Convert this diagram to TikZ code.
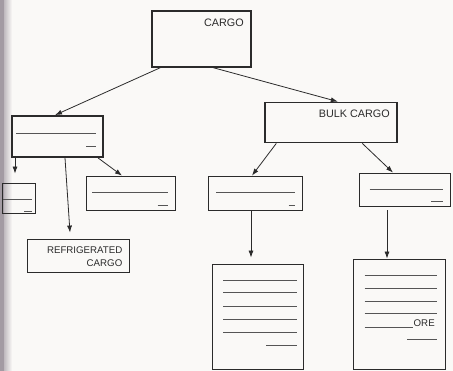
\documentclass[tikz,border=0pt]{standalone}
\usepackage{fontspec}
\setmainfont{Liberation Sans}
\usetikzlibrary{arrows.meta,calc}
\definecolor{ink}{HTML}{2B2B2B}
\definecolor{faint}{HTML}{555555}
\definecolor{paper}{HTML}{FAF9F7}
\definecolor{spine}{HTML}{A39BA3}
\begin{document}
\begin{tikzpicture}[x=1pt,y=-1pt,
  thickbox/.style={draw=ink,line width=1.8pt,inner sep=0pt,rectangle},
  thinbox/.style={draw=ink,line width=0.8pt,inner sep=0pt,rectangle},
  rule/.style={draw=faint,line width=0.6pt},
  conn/.style={draw=ink,line width=0.8pt,-{Latex[length=7pt,width=5pt]}},
  lbl/.style={inner sep=0pt,font=\fontsize{10.8pt}{13pt}\selectfont,text=ink},
  smalllbl/.style={lbl,font=\fontsize{9.7pt}{12pt}\selectfont}]
\useasboundingbox (0,0) rectangle (453,371);
\fill[paper] (0,0) rectangle (453,371);
\shade[left color=spine,right color=paper] (0,0) rectangle (12,371);
\fill[spine] (0,0) rectangle (4,371);
% boxes
\node[thickbox,minimum width=99pt,minimum height=56pt] (cargo) at (201.3,38.8) {};
\node[thickbox,minimum width=91pt,minimum height=41pt] (left) at (57.5,136.5) {};
\node[thickbox,minimum width=132pt,minimum height=40pt] (bulk) at (331.3,122.5) {};
\node[thinbox,minimum width=33pt,minimum height=30pt] (tiny) at (18.5,198) {};
\node[thinbox,minimum width=89pt,minimum height=34pt] (b2) at (130.5,193) {};
\node[thinbox,minimum width=102pt,minimum height=33pt] (refr) at (78.5,255.5) {};
\node[thinbox,minimum width=94pt,minimum height=34pt] (mid) at (255,193) {};
\node[thinbox,minimum width=91pt,minimum height=33pt] (right) at (404.5,189.5) {};
\node[thinbox,minimum width=91pt,minimum height=105pt] (midlong) at (258,316.5) {};
\node[thinbox,minimum width=92pt,minimum height=110pt] (rightlong) at (399,314) {};
% labels
\node[lbl,anchor=base east] (tcargo) at (244,27) {CARGO};
\node[lbl,anchor=base east] (tbulk) at (390,118) {BULK CARGO};
\node[smalllbl,anchor=base east] (trefr1) at (122.5,254) {REFRIGERATED};
\node[smalllbl,anchor=base east] (trefr2) at (122.5,267) {CARGO};
\node[smalllbl,anchor=base west] (tore) at (413.5,327) {ORE};
% inner rules
\draw[rule] (16,133) -- (96,133) (86,146) -- (96,146);
\draw[rule] (3,199) -- (31.5,199) (24,211) -- (31.5,211);
\draw[rule] (92,192.3) -- (168,192.3) (157.5,205) -- (167.5,205);
\draw[rule] (216,192.3) -- (295,192.3) (288.5,205) -- (295,205);
\draw[rule] (369.5,189) -- (443,189) (431,201.7) -- (443,201.7);
\foreach \yy in {280.7,292.7,306,319,332} \draw[rule] (223.3,\yy) -- (296.7,\yy);
\draw[rule] (266,345.7) -- (296.7,345.7);
\foreach \yy in {275.3,288.3,301,313.5} \draw[rule] (364.7,\yy) -- (437.3,\yy);
\draw[rule] (364.7,327.5) -- (412.7,327.5) (407,339.3) -- (437.3,339.3);
% connectors
\draw[conn] ([xshift=-41pt]cargo.south) -- ([xshift=-2.5pt]left.north);
\draw[conn] ([xshift=12pt]cargo.south) -- ([xshift=6.5pt]bulk.north);
\draw[conn] ([xshift=-42.5pt]left.south) -- ([xshift=-3.5pt,yshift=9pt]tiny.north);
\draw[conn] ([xshift=40.5pt]left.south) -- ([xshift=-8.5pt]b2.north);
\draw[conn] ([xshift=7.5pt]left.south) -- ([xshift=-8.5pt,yshift=6pt]refr.north);
\draw[conn] ([xshift=-55pt]bulk.south) -- ([xshift=-3pt]mid.north);
\draw[conn] ([xshift=31pt]bulk.south) -- ([xshift=-11.5pt]right.north);
\draw[conn] ([xshift=-4pt]mid.south) -- ([xshift=-7pt,yshift=6pt]midlong.north);
\draw[conn] ([xshift=-17.5pt,yshift=-4pt]right.south) -- ([xshift=-12pt]rightlong.north);
\end{tikzpicture}
\end{document}
